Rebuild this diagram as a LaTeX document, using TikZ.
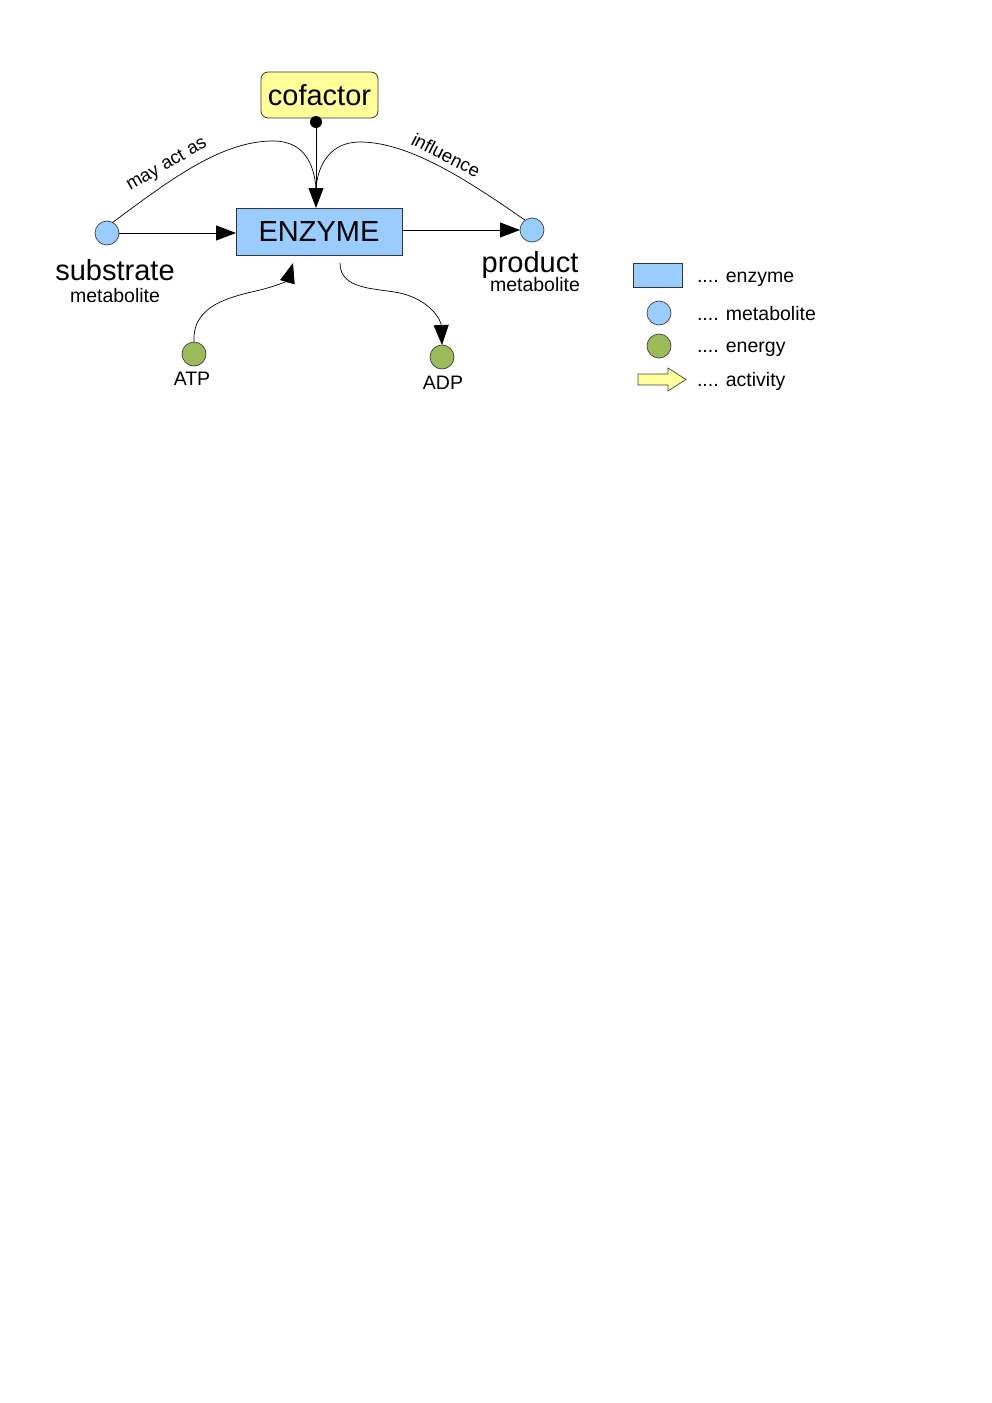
\documentclass[tikz,border=0pt]{standalone}
\usepackage{fontspec}
\setmainfont{Liberation Sans}
\usetikzlibrary{arrows.meta}
\definecolor{enzblue}{HTML}{99CCFF}
\definecolor{engreen}{HTML}{9BBB59}
\definecolor{cofyellow}{HTML}{FFFF99}
\newcommand\szHuge{\fontsize{29}{34}\selectfont}
\newcommand\szSmall{\fontsize{19.5}{23}\selectfont}
\newcommand\szTag{\fontsize{18.5}{22}\selectfont}
\tikzset{
  every node/.style={inner sep=0pt, outer sep=0pt},
  metab/.style={circle, draw=black!75, line width=0.7pt, fill=enzblue, minimum size=24pt},
  energ/.style={metab, fill=engreen},
  enzbox/.style={draw=black!80, line width=0.8pt, fill=enzblue, minimum width=166pt, minimum height=47pt},
  cofbox/.style={draw=black!80, line width=0.8pt, fill=cofyellow, rounded corners=7pt, minimum width=117pt, minimum height=46pt},
  tip/.style={-{Triangle[length=20pt,width=15pt]}},
  conn/.style={line width=0.9pt, tip},
  link/.style={line width=0.7pt},
  legtext/.style={anchor=base west, font=\szSmall},
}
\begin{document}
\begin{tikzpicture}[x=1pt, y=-1pt]
  \useasboundingbox (0,0) rectangle (992,1403);

  % main nodes
  \node[cofbox, font=\szHuge] (cof) at (319.5,95) {cofactor};
  \node[enzbox, font=\szHuge] (enz) at (319,231.5) {ENZYME};
  \node[metab] (sub) at (107,233) {};
  \node[metab] (prod) at (532,230) {};
  \node[energ] (atp) at (194,354) {};
  \node[energ] (adp) at (442,357) {};

  % labels
  \node[anchor=base, font=\szHuge] (subname) at (115,280) {substrate};
  \node[anchor=base, font=\szSmall] (subkind) at (115,302) {metabolite};
  \node[anchor=base, font=\szHuge] (prodname) at (530,272) {product};
  \node[anchor=base, font=\szSmall] (prodkind) at (535,291) {metabolite};
  \node[anchor=base, font=\szSmall] (atpname) at (192,385) {ATP};
  \node[anchor=base, font=\szSmall] (adpname) at (443,389) {ADP};

  % cofactor link
  \coordinate (cofdot) at (316,122);
  \fill (cofdot) circle (6);
  \draw[conn] (cofdot) -- (cofdot |- enz.north);
  \coordinate (merge) at (316,188);

  % substrate / product regulation curves
  \draw[link] (sub.62) .. controls (170,180) and (222,140) .. (275,141)
                      .. controls (305,142) and (314,165) .. (merge);
  \draw[link] (prod.125) .. controls (470,182) and (410,142) .. (360,142)
                      .. controls (330,142) and (318,165) .. (merge);
  \node[font=\szTag, rotate=30] (mayact) at (167,165) {may act as};
  \node[font=\szTag, rotate=-27] (infl) at (446,155) {influence};

  % main reaction
  \draw[conn] (sub) -- (sub -| enz.west);
  \draw[conn] (enz.east |- prod) -- (prod);

  % energy coupling
  \coordinate (atpend) at (293,263);
  \coordinate (adpstart) at (340,263);
  \draw[link, tip] (atp.north) .. controls (192,305) and (230,297) .. (260,290)
                      .. controls (280,285) and (288,280) .. (atpend);
  \draw[link, tip] (adpstart) .. controls (340,290) and (375,288) .. (400,293)
                      .. controls (430,300) and (441,320) .. (adp.north);

  % legend
  \node[enzbox, minimum width=49pt, minimum height=24pt] (lgenz) at (657.5,275.5) {};
  \node[metab] (lgmet) at (659,313) {};
  \node[energ] (lgen) at (659,346) {};
  \draw[draw=black!75, line width=0.7pt, fill=cofyellow]
    (638,374) -- (668,374) -- (668,368) -- (686,379.5) -- (668,391) -- (668,385) -- (638,385) -- cycle;
  \node[legtext] (lgenzt) at (697,282) {.... enzyme};
  \node[legtext] (lgmett) at (697,320) {.... metabolite};
  \node[legtext] (lgent)  at (697,352) {.... energy};
  \node[legtext] (lgactt) at (697,386) {.... activity};
\end{tikzpicture}
\end{document}
